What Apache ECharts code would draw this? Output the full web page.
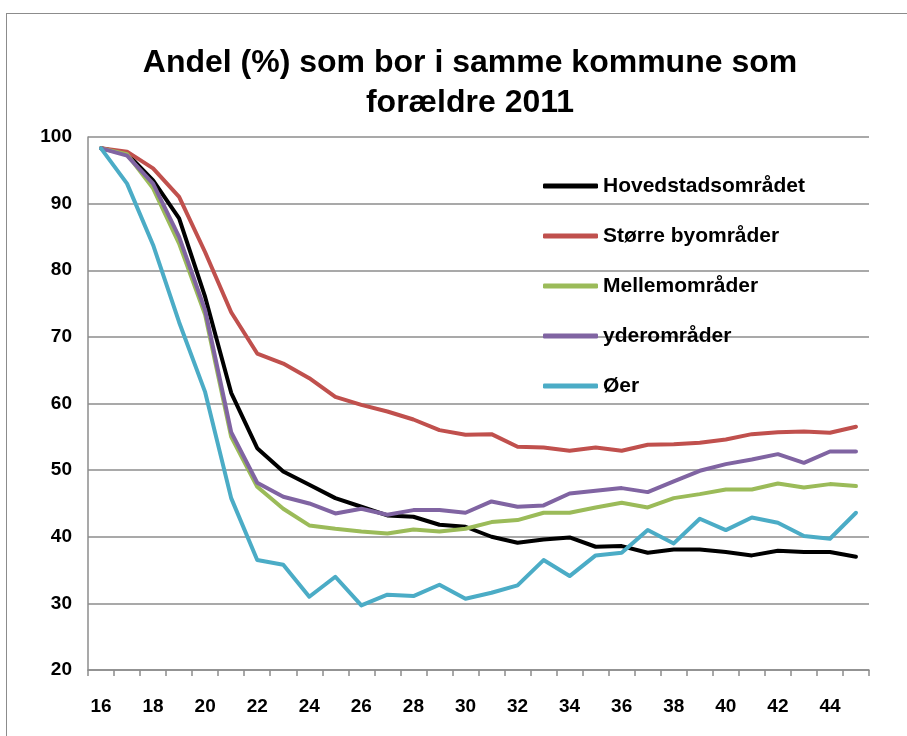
<!DOCTYPE html>
<html>
<head>
<meta charset="utf-8">
<script src="https://cdn.jsdelivr.net/npm/echarts@6/dist/echarts.min.js"></script>
<style>
  html, body { margin: 0; padding: 0; background: #fff; overflow: hidden; }
  #frame { position: absolute; left: 6px; top: 13px; width: 960px; height: 800px; border: 1.5px solid #8c8c8c; }
  #main { position: absolute; left: 0; top: 0; width: 907px; height: 736px; }
</style>
</head>
<body>
<div id="frame"></div>
<div id="main"></div>
<script>
// alder 16-45
var ages = ['16','17','18','19','20','21','22','23','24','25','26','27','28','29','30',
            '31','32','33','34','35','36','37','38','39','40','41','42','43','44','45'];

var hoved  = [98.3, 97.5, 93.5, 87.8, 76.0, 61.6, 53.3, 49.8, 47.8, 45.8, 44.5, 43.2, 43.0, 41.8, 41.5,
              40.0, 39.1, 39.6, 39.9, 38.5, 38.6, 37.6, 38.1, 38.1, 37.7, 37.2, 37.9, 37.7, 37.7, 37.0];
var storre = [98.3, 97.8, 95.3, 91.0, 82.7, 73.7, 67.5, 66.0, 63.8, 61.0, 59.8, 58.8, 57.6, 56.0, 55.3,
              55.4, 53.5, 53.4, 52.9, 53.4, 52.9, 53.8, 53.9, 54.1, 54.6, 55.4, 55.7, 55.8, 55.6, 56.5];
var mellem = [98.3, 97.4, 92.3, 84.0, 73.3, 55.0, 47.5, 44.2, 41.7, 41.2, 40.8, 40.5, 41.1, 40.8, 41.2,
              42.2, 42.5, 43.6, 43.6, 44.4, 45.1, 44.4, 45.8, 46.4, 47.1, 47.1, 48.0, 47.4, 47.9, 47.6];
var yder   = [98.3, 97.2, 93.0, 85.0, 74.0, 55.7, 48.1, 46.0, 45.0, 43.5, 44.2, 43.3, 44.0, 44.0, 43.6,
              45.3, 44.5, 44.7, 46.5, 46.9, 47.3, 46.7, 48.3, 49.9, 50.9, 51.6, 52.4, 51.1, 52.8, 52.8];
var oer    = [98.3, 93.0, 83.8, 72.2, 61.7, 45.8, 36.5, 35.8, 31.0, 34.0, 29.7, 31.3, 31.1, 32.8, 30.7,
              31.6, 32.7, 36.5, 34.1, 37.2, 37.6, 41.0, 39.0, 42.7, 41.0, 42.9, 42.1, 40.1, 39.7, 43.6];

var names = ['Hovedstadsområdet', 'Større byområder', 'Mellemområder', 'yderområder', 'Øer'];
var colors = ['#000000', '#C0504D', '#9BBB59', '#8064A2', '#4BACC6'];
var values = [hoved, storre, mellem, yder, oer];

var font = 'Liberation Sans, Arial, sans-serif';
var chart = echarts.init(document.getElementById('main'));

var series = names.map(function (n, i) {
  return {
    name: n,
    type: 'line',
    data: values[i],
    showSymbol: false,
    lineStyle: { width: 4, color: colors[i], cap: 'round', join: 'round' },
    itemStyle: { color: colors[i] }
  };
});

var option = {
  animation: false,
  title: {
    text: 'Andel (%) som bor i samme kommune som\nforældre 2011',
    left: 465,
    top: 38,
    textAlign: 'center',
    textStyle: { fontFamily: font, fontSize: 32, fontWeight: 'bold', color: '#000', lineHeight: 40 }
  },
  legend: {
    orient: 'vertical',
    left: 538,
    top: 169,
    itemWidth: 55,
    itemHeight: 5,
    itemGap: 26,
    icon: 'roundRect',
    data: names,
    textStyle: { fontFamily: font, fontSize: 21, fontWeight: 'bold', color: '#000', lineHeight: 24 }
  },
  grid: { left: 88, right: 38, top: 137, bottom: 66 },
  xAxis: {
    type: 'category',
    data: ages,
    boundaryGap: true,
    axisLine: { lineStyle: { color: '#8c8c8c', width: 1.5 } },
    axisTick: { show: true, interval: 0, length: 6, lineStyle: { color: '#8c8c8c', width: 1.5 } },
    axisLabel: { interval: 1, margin: 27, fontFamily: font, fontSize: 19, fontWeight: 'bold', color: '#000' }
  },
  yAxis: {
    type: 'value',
    min: 20,
    max: 100,
    interval: 10,
    axisLine: { show: true, lineStyle: { color: '#8c8c8c', width: 1.5 } },
    axisTick: { show: false },
    axisLabel: { margin: 16, fontFamily: font, fontSize: 19, fontWeight: 'bold', color: '#000' },
    splitLine: { lineStyle: { color: '#8c8c8c', width: 1.5 } }
  },
  series: series
};

chart.setOption(option);
</script>
</body>
</html>
